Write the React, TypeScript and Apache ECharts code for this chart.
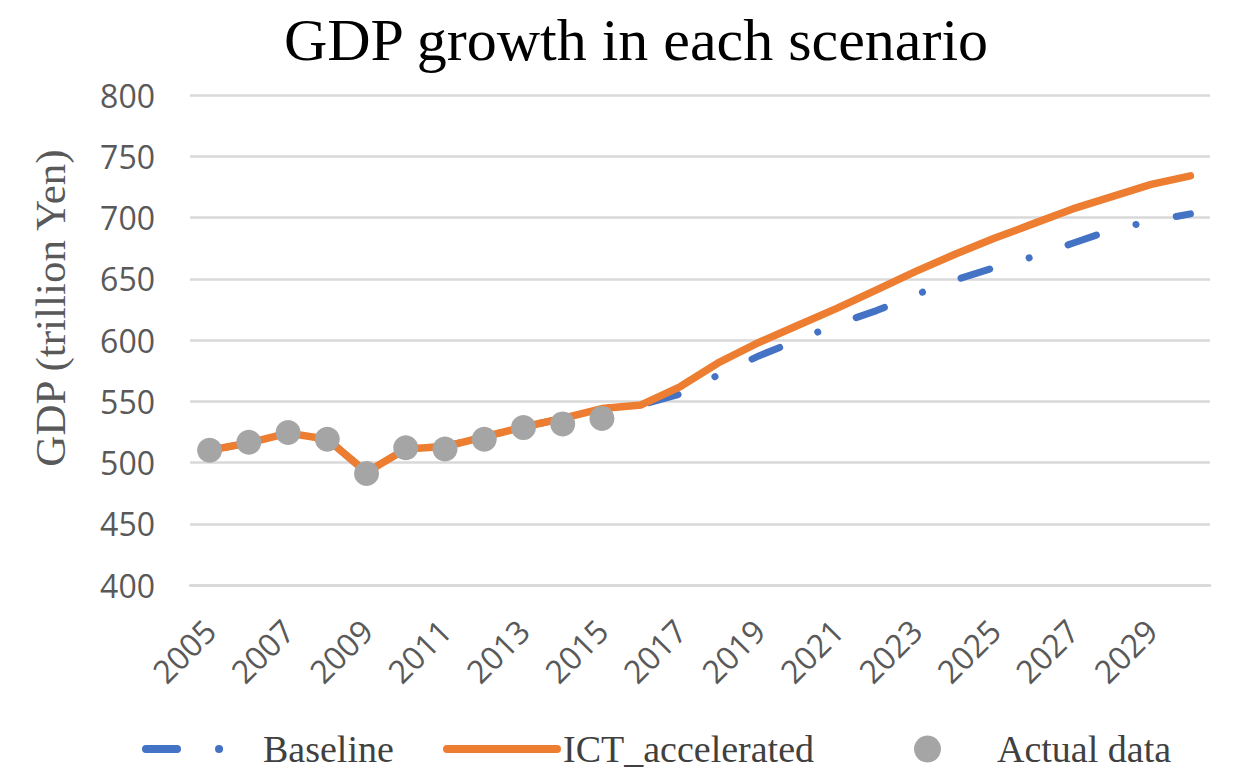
import React, { useEffect, useRef } from "react";
import * as echarts from "echarts";

const years = [
  "2005", "2006", "2007", "2008", "2009", "2010", "2011", "2012", "2013",
  "2014", "2015", "2016", "2017", "2018", "2019", "2020", "2021", "2022",
  "2023", "2024", "2025", "2026", "2027", "2028", "2029", "2030",
];

const baseline = [
  510, 516, 524, 519, 492, 511, 513, 521, 529, 536, 544, 547, 556, 572,
  587, 600, 613, 624, 637, 649, 659, 668, 679, 690, 697, 703,
];

const ictAccelerated = [
  510, 516, 524, 519, 492, 511, 513, 521, 529, 536, 544, 547, 562, 582,
  598, 612, 626, 641, 656, 670, 683, 695, 707, 717, 727, 734,
];

const actualData = [510, 516.5, 524.5, 519, 491, 512, 511, 519, 528.5, 531.5, 536];

const yTicks = { min: 400, max: 800, interval: 50 };

const SERIF = "'Liberation Serif', 'Times New Roman', serif";
const SANS = "'Open Sans', 'Liberation Sans', sans-serif";

export default function App() {
  const ref = useRef<HTMLDivElement>(null);

  useEffect(() => {
    if (!ref.current) return;
    const chart = echarts.init(ref.current, undefined, { renderer: "svg" });
    const legendText = { fontFamily: SERIF, fontSize: 38, lineHeight: 40, color: "#404040" };
    chart.setOption({
      animation: false,
      backgroundColor: "#ffffff",
      title: {
        text: "GDP growth in each scenario",
        left: 631,
        textAlign: "center",
        top: 5,
        textStyle: { fontFamily: SERIF, fontSize: 60, fontWeight: "normal", color: "#000000" },
      },
      grid: { left: 190, right: 23, top: 95, bottom: 186, containLabel: false },
      legend: [
        {
          data: ["Baseline"],
          left: 142,
          top: 729,
          padding: 0,
          itemWidth: 77,
          itemHeight: 20,
          itemStyle: { opacity: 0 },
          lineStyle: { type: [31, 42, 0.1, 100], dashOffset: 0, width: 8, cap: "round" },
          textStyle: { ...legendText, padding: [0, 0, 0, 35] },
        },
        {
          data: ["ICT_accelerated"],
          left: 443,
          top: 729,
          padding: 0,
          itemWidth: 110,
          itemHeight: 20,
          itemStyle: { opacity: 0 },
          lineStyle: { width: 8, cap: "round" },
          textStyle: { ...legendText, padding: [0, 0, 0, 1] },
        },
        {
          data: ["Actual data"],
          left: 914,
          top: 729,
          padding: 0,
          itemWidth: 27,
          itemHeight: 27,
          textStyle: { ...legendText, padding: [0, 0, 0, 51] },
        },
      ],
      xAxis: {
        type: "category",
        data: years,
        boundaryGap: true,
        axisLine: { lineStyle: { color: "#D9D9D9", width: 2.5 } },
        axisTick: { show: false },
        axisLabel: {
          interval: 1,
          rotate: 45,
          margin: 40,
          fontFamily: SANS,
          fontSize: 32,
          color: "#595959",
        },
        splitLine: { show: false },
      },
      yAxis: {
        type: "value",
        min: yTicks.min,
        max: yTicks.max,
        interval: yTicks.interval,
        name: "GDP (trillion Yen)",
        nameLocation: "middle",
        nameGap: 118,
        nameTextStyle: {
          fontFamily: SERIF,
          fontSize: 43,
          color: "#595959",
          padding: [0, 0, 0, 64],
        },
        axisLine: { show: false },
        axisTick: { show: false },
        axisLabel: { margin: 35, fontFamily: SANS, fontSize: 32, color: "#595959" },
        splitLine: { lineStyle: { color: "#D9D9D9", width: 2.5 } },
      },
      series: [
        {
          name: "Baseline",
          type: "line",
          data: baseline,
          symbol: "none",
          color: "#4472C4",
          lineStyle: {
            color: "#4472C4",
            width: 7,
            type: [30, 41, 0.1, 41],
            dashOffset: 95,
            cap: "round",
            join: "round",
          },
          z: 2,
        },
        {
          name: "ICT_accelerated",
          type: "line",
          data: ictAccelerated,
          symbol: "none",
          color: "#ED7D31",
          lineStyle: { color: "#ED7D31", width: 7.5, cap: "round", join: "round" },
          z: 3,
        },
        {
          name: "Actual data",
          type: "scatter",
          data: actualData,
          symbol: "circle",
          symbolSize: 25,
          color: "#A5A5A5",
          itemStyle: { color: "#A5A5A5", opacity: 1 },
          z: 4,
        },
      ],
    });
    return () => chart.dispose();
  }, []);

  return (
    <div
      ref={ref}
      style={{ position: "absolute", left: 0, top: 0, width: 1233, height: 771 }}
    />
  );
}
